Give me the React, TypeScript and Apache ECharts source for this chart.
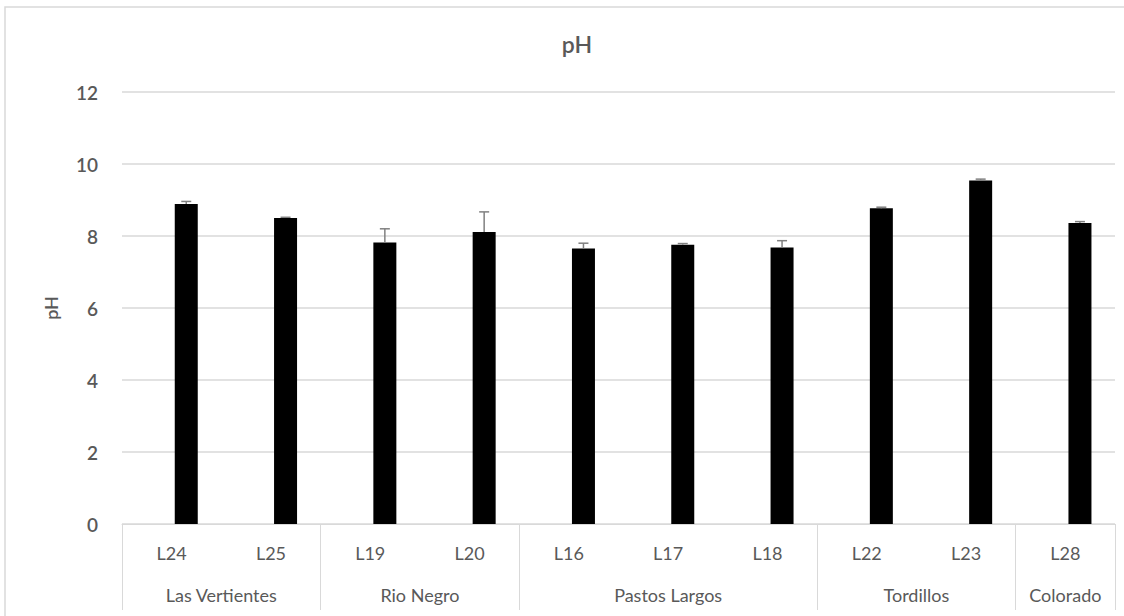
import React, { useEffect, useRef } from "react";
import * as echarts from "echarts";

const categories = ["L24", "L25", "L19", "L20", "L16", "L17", "L18", "L22", "L23", "L28"];
const phValues = [8.89, 8.5, 7.82, 8.11, 7.65, 7.76, 7.68, 8.77, 9.54, 8.36];
const phErrors = [0.07, 0.02, 0.38, 0.56, 0.15, 0.03, 0.19, 0.03, 0.04, 0.04];
const groupNames = ["Las Vertientes", "Rio Negro", "Pastos Largos", "Tordillos", "Colorado"];
const groupSizes = [2, 2, 3, 2, 1];
const yTicks = { min: 0, max: 12, interval: 2 };

const FONT = "Lato, 'Noto Sans', sans-serif";
const GRAY = "#595959";
const LINE = "#d9d9d9";
const BAR_W = 23;
const BAR_GAP = 0.27;

export default function App() {
  const ref = useRef<HTMLDivElement>(null);
  useEffect(() => {
    document.body.style.margin = "0";
    const chart = echarts.init(ref.current!, null, { renderer: "svg" });

    const bounds: number[] = [0];
    const centers: number[] = [];
    groupSizes.forEach((s) => {
      const start = bounds[bounds.length - 1];
      centers.push(start + s / 2);
      bounds.push(start + s);
    });
    const offset = (BAR_W * (1 + BAR_GAP)) / 2;

    chart.setOption({
      animation: false,
      backgroundColor: "#fff",
      title: {
        text: "pH",
        left: 572,
        top: 27,
        textAlign: "center",
        textStyle: { fontFamily: FONT, fontSize: 23, fontWeight: 600, color: GRAY },
      },
      graphic: [
        {
          type: "rect",
          shape: { x: 5, y: 7, width: 1140, height: 640 },
          style: { fill: "none", stroke: LINE, lineWidth: 1.5 },
          silent: true,
        },
      ],
      grid: { left: 122, right: 9, top: 92, bottom: 92, containLabel: false },
      xAxis: [
        {
          type: "category",
          data: categories,
          axisLine: { show: true, lineStyle: { color: LINE, width: 1 } },
          axisTick: { show: false },
          axisLabel: { fontFamily: FONT, fontSize: 18, color: GRAY, margin: 20 },
        },
        {
          type: "value",
          min: bounds[0],
          max: bounds[bounds.length - 1],
          position: "bottom",
          axisLine: { show: false },
          splitLine: { show: false },
          axisTick: {
            show: true,
            customValues: bounds,
            length: 86,
            lineStyle: { color: LINE, width: 1 },
          },
          axisLabel: {
            customValues: centers,
            formatter: (v: number) => {
              const i = centers.findIndex((c) => Math.abs(c - v) < 1e-6);
              return i >= 0 ? groupNames[i] : "";
            },
            fontFamily: FONT,
            fontSize: 18,
            color: GRAY,
            margin: 62,
          },
        },
      ],
      yAxis: {
        type: "value",
        min: yTicks.min,
        max: yTicks.max,
        interval: yTicks.interval,
        name: "pH",
        nameLocation: "middle",
        nameGap: 62,
        nameTextStyle: { fontFamily: FONT, fontSize: 18, fontWeight: 600, color: GRAY },
        axisLine: { show: false },
        axisTick: { show: false },
        splitLine: { lineStyle: { color: LINE, width: 1.5 } },
        axisLabel: { fontFamily: FONT, fontSize: 19, fontWeight: 600, color: GRAY, margin: 24 },
      },
      series: [
        {
          type: "bar",
          name: "spacer",
          data: categories.map(() => null),
          barWidth: BAR_W,
          barGap: BAR_GAP * 100 + "%",
          itemStyle: { color: "transparent" },
        },
        {
          type: "bar",
          name: "pH",
          data: phValues,
          barWidth: BAR_W,
          barGap: BAR_GAP * 100 + "%",
          itemStyle: { color: "#000" },
        },
        {
          type: "custom",
          name: "err",
          data: phValues.map((v, i) => [i, v, v + phErrors[i]]),
          z: 5,
          renderItem: (params: any, api: any) => {
            const base = api.coord([api.value(0), api.value(1)]);
            const top = api.coord([api.value(0), api.value(2)]);
            const x = base[0] + offset;
            return {
              type: "group",
              children: [
                {
                  type: "line",
                  shape: { x1: x, y1: base[1], x2: x, y2: top[1] },
                  style: { stroke: "#808080", lineWidth: 1.5 },
                },
                {
                  type: "line",
                  shape: { x1: x - 5, y1: top[1], x2: x + 5, y2: top[1] },
                  style: { stroke: "#808080", lineWidth: 1.5 },
                },
              ],
            };
          },
        },
      ],
    });
    return () => chart.dispose();
  }, []);
  return <div ref={ref} style={{ width: 1124, height: 616 }} />;
}
